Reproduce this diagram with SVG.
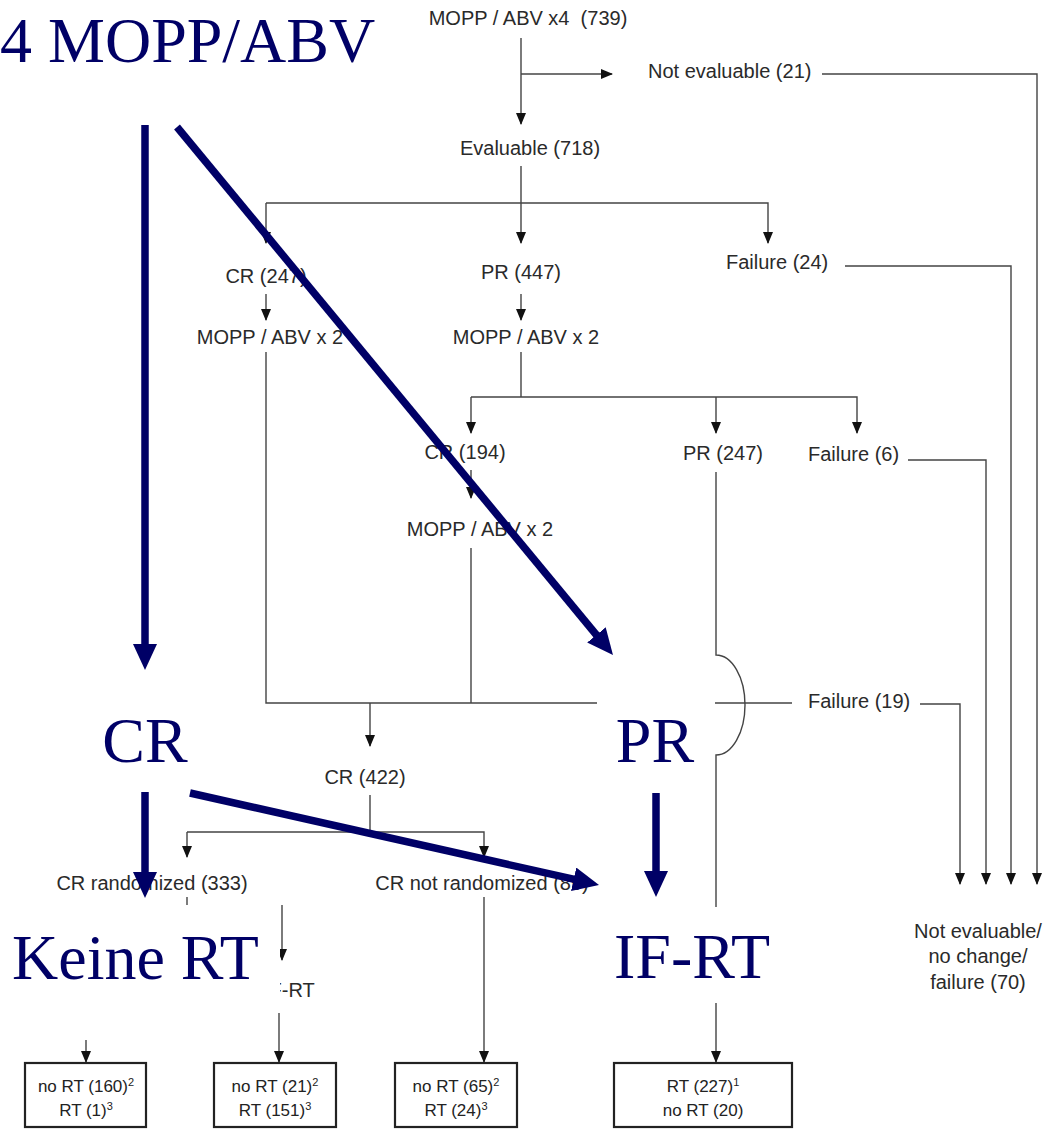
<svg xmlns="http://www.w3.org/2000/svg" width="1044" height="1129" viewBox="0 0 1044 1129">
<style>
.lbl{font-family:"Liberation Sans",Arial,sans-serif;font-size:20px;fill:#2a2a2a;white-space:pre}
.c{text-anchor:middle}
.bx{font-family:"Liberation Sans",Arial,sans-serif;font-size:17px;fill:#222;text-anchor:middle}
.sup{font-size:11px}
.ln{fill:none;stroke:#444;stroke-width:1.4}
.arr{marker-end:url(#ah)}
.box{fill:#fff;stroke:#222;stroke-width:2.2}
.big{font-family:"Liberation Serif","Times New Roman",serif;font-size:64px;fill:#000066}
.wb{fill:#fff}
.blue{fill:none;stroke:#000066;stroke-width:7.5;marker-end:url(#bh)}
</style>
<defs>
<marker id="ah" markerUnits="userSpaceOnUse" markerWidth="12" markerHeight="10" refX="11" refY="5" orient="auto"><path d="M0,0 L12,5 L0,10 z" fill="#111"/></marker>
<marker id="bh" markerUnits="userSpaceOnUse" markerWidth="26" markerHeight="24" refX="2" refY="12" orient="auto"><path d="M0,0 L26,12 L0,24 z" fill="#000066"/></marker>
</defs>
<rect width="1044" height="1129" fill="#fff"/>

<g id="connectors">
<path class="ln arr" d="M521 38 V124"/>
<path class="ln arr" d="M521 74 H612"/>
<path class="ln arr" d="M822 74 H1037 V884"/>
<path class="ln" d="M521 166 V203"/>
<path class="ln arr" d="M266 203 V243"/>
<path class="ln arr" d="M266 203 H768 V243"/>
<path class="ln arr" d="M521 203 V243"/>
<path class="ln arr" d="M845 266 H1011 V884"/>
<path class="ln arr" d="M266 294 V320"/>
<path class="ln arr" d="M521 294 V320"/>
<path class="ln" d="M266 352 V703 H792"/>
<path class="ln" d="M521 352 V397"/>
<path class="ln arr" d="M471 397 V433"/>
<path class="ln arr" d="M471 397 H857 V433"/>
<path class="ln arr" d="M716 397 V433"/>
<path class="ln arr" d="M908 460 H986 V884"/>
<path class="ln arr" d="M471 470 V498"/>
<path class="ln" d="M471 548 V703"/>
<path class="ln arr" d="M716 472 V655 A29 50 0 0 1 716 755 V1062"/>
<path class="ln arr" d="M920 704 H960 V884"/>
<path class="ln arr" d="M370 703 V746"/>
<path class="ln" d="M370 795 V832"/>
<path class="ln arr" d="M187 832 V857"/>
<path class="ln arr" d="M187 832 H484 V857"/>
<path class="ln" d="M187 897 V990"/>
<path class="ln arr" d="M484 897 V1062"/>
<path class="ln arr" d="M282 905 V960"/>
<path class="ln arr" d="M279 1013 V1062"/>
<path class="ln arr" d="M86 1040 V1062"/>
</g>

<g id="n-start"><text class="lbl c" x="528" y="25">MOPP / ABV x4  (739)</text></g>
<g id="n-noteval"><text class="lbl" x="648" y="78">Not evaluable (21)</text></g>
<g id="n-evaluable"><text class="lbl c" x="530" y="155">Evaluable (718)</text></g>
<g id="n-cr247"><text class="lbl c" x="266" y="283">CR (247)</text></g>
<g id="n-pr447"><text class="lbl c" x="521" y="279">PR (447)</text></g>
<g id="n-fail24"><text class="lbl" x="726" y="269">Failure (24)</text></g>
<g id="n-mopp2a"><text class="lbl c" x="270" y="344">MOPP / ABV x 2</text></g>
<g id="n-mopp2b"><text class="lbl c" x="526" y="344">MOPP / ABV x 2</text></g>
<g id="n-cr194"><text class="lbl c" x="465" y="459">CR (194)</text></g>
<g id="n-pr247"><text class="lbl c" x="723" y="460">PR (247)</text></g>
<g id="n-fail6"><text class="lbl" x="808" y="461">Failure (6)</text></g>
<g id="n-mopp2c"><text class="lbl c" x="480" y="536">MOPP / ABV x 2</text></g>
<g id="n-fail19"><text class="lbl" x="808" y="708">Failure (19)</text></g>
<g id="n-cr422"><text class="lbl c" x="365" y="784">CR (422)</text></g>
<g id="n-crrand"><text class="lbl c" x="152" y="890">CR randomized (333)</text></g>
<g id="n-crnotrand"><text class="lbl c" x="482" y="890">CR not randomized (89)</text></g>
<g id="n-ifrt"><text class="lbl" x="264" y="997">IF-RT</text></g>
<g id="n-out"><text class="lbl c" x="978" y="938">Not evaluable/</text><text class="lbl c" x="978" y="963">no change/</text><text class="lbl c" x="978" y="989">failure (70)</text></g>

<g id="b1"><rect class="box" x="25" y="1063" width="121" height="64"/><text class="bx" x="86" y="1092">no RT (160)<tspan class="sup" dy="-6">2</tspan></text><text class="bx" x="86" y="1116">RT (1)<tspan class="sup" dy="-6">3</tspan></text></g>
<g id="b2"><rect class="box" x="214" y="1063" width="122" height="64"/><text class="bx" x="275" y="1092">no RT (21)<tspan class="sup" dy="-6">2</tspan></text><text class="bx" x="275" y="1116">RT (151)<tspan class="sup" dy="-6">3</tspan></text></g>
<g id="b3"><rect class="box" x="395" y="1063" width="122" height="64"/><text class="bx" x="456" y="1092">no RT (65)<tspan class="sup" dy="-6">2</tspan></text><text class="bx" x="456" y="1116">RT (24)<tspan class="sup" dy="-6">3</tspan></text></g>
<g id="b4"><rect class="box" x="614" y="1063" width="178" height="64"/><text class="bx" x="703" y="1092">RT (227)<tspan class="sup" dy="-6">1</tspan></text><text class="bx" x="703" y="1116">no RT (20)</text></g>

<g id="o-title"><text class="big" x="0" y="62">4 MOPP/ABV</text></g>
<g id="o-cr"><rect class="wb" x="80" y="688" width="130" height="98"/><text class="big" x="145" y="762" text-anchor="middle">CR</text></g>
<g id="o-pr"><rect class="wb" x="597" y="684" width="118" height="100"/><text class="big" x="655" y="762" text-anchor="middle">PR</text></g>
<g id="o-keine"><rect class="wb" x="0" y="905" width="280" height="92"/><text class="big" x="12" y="979">Keine RT</text></g>
<g id="o-ifrt"><rect class="wb" x="597" y="907" width="201" height="96"/><text class="big" x="614" y="978">IF-RT</text></g>

<g id="overlay-arrows">
<path class="blue" d="M145 125 V646"/>
<path class="blue" d="M177 127 L597.7 636.5"/>
<path class="blue" d="M145 792 V874"/>
<path class="blue" d="M190 793 L575.6 879.7"/>
<path class="blue" d="M656 793 V873"/>
</g>
</svg>
